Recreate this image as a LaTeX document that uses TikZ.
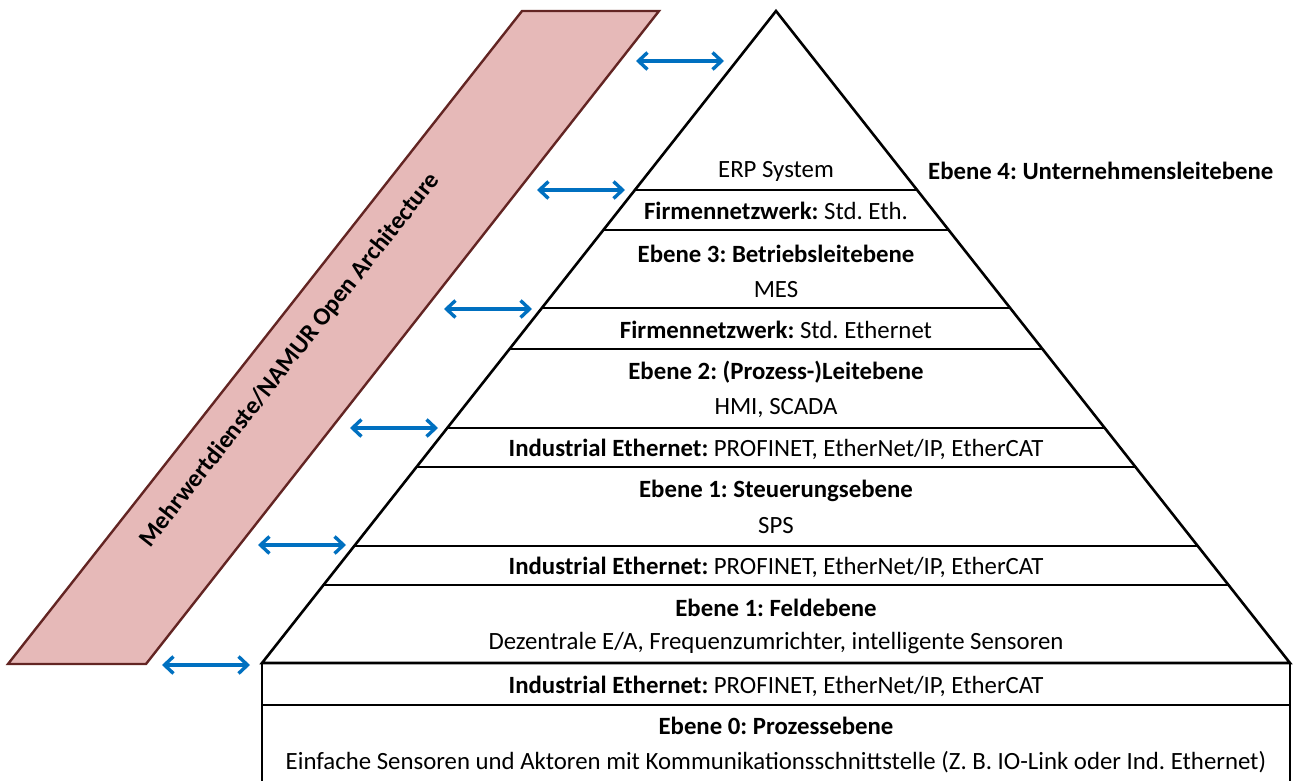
\documentclass[tikz,border=0pt]{standalone}
\usepackage{fontspec}
\setmainfont{Carlito}
\frenchspacing
\usetikzlibrary{arrows.meta}
\definecolor{parafill}{HTML}{E6B9B8}
\definecolor{paraedge}{HTML}{632523}
\definecolor{arrblue}{HTML}{0070C0}
\begin{document}
\begin{tikzpicture}[x=1pt,y=-1pt,
  lvl/.style={draw=black,line width=2.6pt,line join=miter},
  txt/.style={font=\fontsize{24.8}{28}\selectfont,anchor=center,inner sep=0pt},
  link/.style={draw=arrblue,line width=3.4pt,{Straight Barb[length=9pt,width=17pt]}-{Straight Barb[length=9pt,width=17pt]}}]
\useasboundingbox (0,0) rectangle (1294,780);
\clip (0,0) rectangle (1294,780);
% value-added services parallelogram
\draw[fill=parafill,draw=paraedge,line width=2.4pt,line join=miter]
  (522,11) -- (659,11) -- (146,664) -- (8,664) -- cycle;
\node[font=\bfseries\fontsize{24.8}{28}\selectfont,rotate=51.8,inner sep=0pt] (mw) at (290,360) {Mehrwertdienste/NAMUR Open Architecture};
% pyramid
\coordinate (apex) at (776,11);
\coordinate (bl) at (262,663);
\coordinate (br) at (1290,663);
\draw[lvl] (apex) -- (bl) -- (br) -- cycle;
\draw[lvl] (634.9,190) -- (917.1,190);
\draw[lvl] (603.4,230) -- (948.6,230);
\draw[lvl] (541.9,308) -- (1010.1,308);
\draw[lvl] (509.5,349) -- (1042.5,349);
\draw[lvl] (447.3,428) -- (1104.7,428);
\draw[lvl] (416.5,467) -- (1135.5,467);
\draw[lvl] (354.2,546) -- (1197.8,546);
\draw[lvl] (323.5,585) -- (1228.5,585);
% bottom box
\draw[lvl] (262,663) -- (262,790) -- (1290,790) -- (1290,663);
\draw[lvl] (262,705) -- (1290,705);
% texts
\node[txt] (erp) at (776,171) {ERP System};
\node[txt,font=\bfseries\fontsize{24.8}{28}\selectfont,anchor=west] (e4) at (928,171) {Ebene 4: Unternehmensleitebene};
\node[txt] (fn1) at (776,211) {\textbf{Firmennetzwerk:} Std. Eth.};
\node[txt] (e3) at (776,254) {\textbf{Ebene 3: Betriebsleitebene}};
\node[txt] (mes) at (776,290) {MES};
\node[txt] (fn2) at (776,330) {\textbf{Firmennetzwerk:} Std. Ethernet};
\node[txt] (e2) at (776,372) {\textbf{Ebene 2: (Prozess-)Leitebene}};
\node[txt] (hmi) at (776,408) {HMI, SCADA};
\node[txt] (ie1) at (776,449) {\textbf{Industrial Ethernet:} PROFINET, EtherNet/IP, EtherCAT};
\node[txt] (e1s) at (776,491) {\textbf{Ebene 1: Steuerungsebene}};
\node[txt] (sps) at (776,526) {SPS};
\node[txt] (ie2) at (776,567) {\textbf{Industrial Ethernet:} PROFINET, EtherNet/IP, EtherCAT};
\node[txt] (e1f) at (776,608) {\textbf{Ebene 1: Feldebene}};
\node[txt] (dez) at (776,643) {Dezentrale E/A, Frequenzumrichter, intelligente Sensoren};
\node[txt] (ie3) at (776,686) {\textbf{Industrial Ethernet:} PROFINET, EtherNet/IP, EtherCAT};
\node[txt] (e0) at (776,726) {\textbf{Ebene 0: Prozessebene}};
\node[txt] (einf) at (776,762) {Einfache Sensoren und Aktoren mit Kommunikationsschnittstelle (Z. B. IO-Link oder Ind. Ethernet)};
% arrows
\coordinate (a1l) at (636,61);  \coordinate (a1r) at (724,61);
\coordinate (a2l) at (537,190); \coordinate (a2r) at (625,190);
\coordinate (a3l) at (444,309); \coordinate (a3r) at (532,309);
\coordinate (a4l) at (350,428); \coordinate (a4r) at (438,428);
\coordinate (a5l) at (258,545); \coordinate (a5r) at (346,545);
\coordinate (a6l) at (162,665); \coordinate (a6r) at (250,665);
\foreach \i in {1,...,6} {\draw[link] (a\i l) -- (a\i r);}
\end{tikzpicture}
\end{document}
